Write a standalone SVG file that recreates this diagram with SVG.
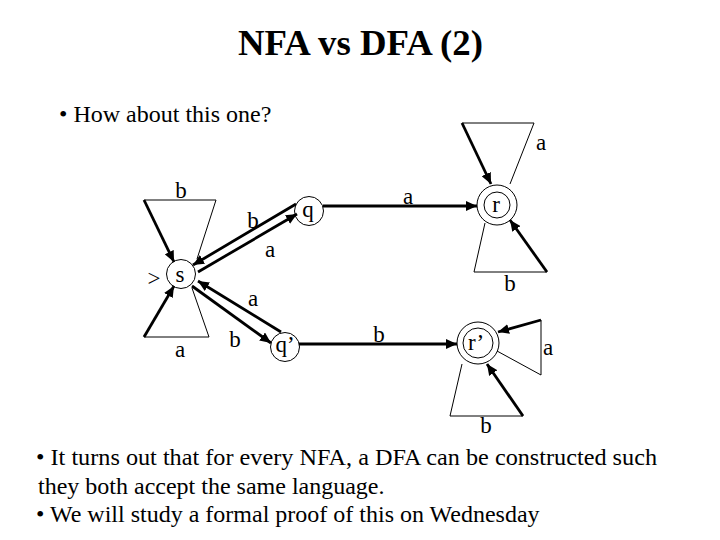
<svg xmlns="http://www.w3.org/2000/svg" width="720" height="540" viewBox="0 0 720 540">
<style>
.t{font-family:"Liberation Serif","Times New Roman",serif;fill:#000}
.lbl{font-family:"Liberation Serif","Times New Roman",serif;font-size:23px;fill:#000;text-anchor:middle}
.st{fill:none;stroke:#000;stroke-width:1}
.thin{fill:none;stroke:#000;stroke-width:1}
.thick{fill:none;stroke:#000;stroke-width:2.8;marker-end:url(#ah)}
</style>
<defs>
<marker id="ah" markerUnits="userSpaceOnUse" markerWidth="12" markerHeight="10" refX="11" refY="5" orient="auto">
<path d="M0,0 L11,5 L0,10 z" fill="#000"/>
</marker>
</defs>
<rect width="720" height="540" fill="#fff"/>
<text class="t" x="238" y="55" font-size="35" font-weight="bold" textLength="245" lengthAdjust="spacingAndGlyphs">NFA vs DFA (2)</text>
<text class="t" x="59" y="122" font-size="24">• How about this one?</text>
<text class="t" x="36" y="465" font-size="24" textLength="621" lengthAdjust="spacingAndGlyphs">• It turns out that for every NFA, a DFA can be constructed such</text>
<text class="t" x="38" y="494" font-size="24">they both accept the same language.</text>
<text class="t" x="36" y="522" font-size="24">• We will study a formal proof of this on Wednesday</text>

<g id="edges">
<g id="loop-s-b">
<polyline class="thin" points="197,259 216,200 144,200"/>
<line class="thick" x1="144" y1="200" x2="174" y2="262"/>
<text class="lbl" x="181" y="198">b</text>
</g>
<g id="loop-s-a">
<polyline class="thin" points="192,288 209,337 144,337"/>
<line class="thick" x1="144" y1="337" x2="174" y2="286"/>
<text class="lbl" x="180" y="357">a</text>
</g>
<g id="e-q-s">
<line class="thick" x1="296" y1="204" x2="193" y2="265"/>
<text class="lbl" x="253" y="228">b</text>
</g>
<g id="e-s-q">
<line class="thick" x1="198" y1="272" x2="297" y2="214"/>
<text class="lbl" x="270" y="257">a</text>
</g>
<g id="e-qp-s">
<line class="thick" x1="281" y1="332" x2="198" y2="281"/>
<text class="lbl" x="253" y="306">a</text>
</g>
<g id="e-s-qp">
<line class="thick" x1="192" y1="286" x2="271" y2="343"/>
<text class="lbl" x="235" y="347">b</text>
</g>
<g id="e-q-r">
<line class="thick" x1="323" y1="206" x2="477" y2="206"/>
<text class="lbl" x="408" y="204">a</text>
</g>
<g id="e-qp-rp">
<line class="thick" x1="299" y1="344" x2="457" y2="344"/>
<text class="lbl" x="379" y="342">b</text>
</g>
<g id="loop-r-a">
<polyline class="thin" points="510,184 534,123 462,123"/>
<line class="thick" x1="462" y1="123" x2="491" y2="184"/>
<text class="lbl" x="541" y="150">a</text>
</g>
<g id="loop-r-b">
<polyline class="thin" points="485,223 474,272 547,272"/>
<line class="thick" x1="547" y1="272" x2="510" y2="220"/>
<text class="lbl" x="510" y="291">b</text>
</g>
<g id="loop-rp-a">
<polyline class="thin" points="497,351 541,375 541,320"/>
<line class="thick" x1="541" y1="320" x2="498" y2="332"/>
<text class="lbl" x="548" y="355">a</text>
</g>
<g id="loop-rp-b">
<polyline class="thin" points="462,364 450,416 523,416"/>
<line class="thick" x1="523" y1="416" x2="487" y2="364"/>
<text class="lbl" x="486" y="433">b</text>
</g>
</g>

<g id="node-s">
<circle class="st" cx="181" cy="274" r="14.5" fill="#fff"/>
<text class="lbl" x="180" y="282">s</text>
<text class="lbl" x="154" y="286">&gt;</text>
</g>
<g id="node-q">
<circle class="st" cx="309" cy="211" r="14.5"/>
<text class="lbl" x="308" y="217">q</text>
</g>
<g id="node-qp">
<circle class="st" cx="285" cy="347" r="14.5"/>
<text class="lbl" x="285" y="352">q’</text>
</g>
<g id="node-r">
<circle class="st" cx="497" cy="205" r="20"/>
<circle class="st" cx="497" cy="205" r="13"/>
<text class="lbl" x="496" y="212">r</text>
</g>
<g id="node-rp">
<circle class="st" cx="478" cy="343" r="21"/>
<circle class="st" cx="478" cy="343" r="15"/>
<text class="lbl" x="476" y="350">r’</text>
</g>
</svg>
